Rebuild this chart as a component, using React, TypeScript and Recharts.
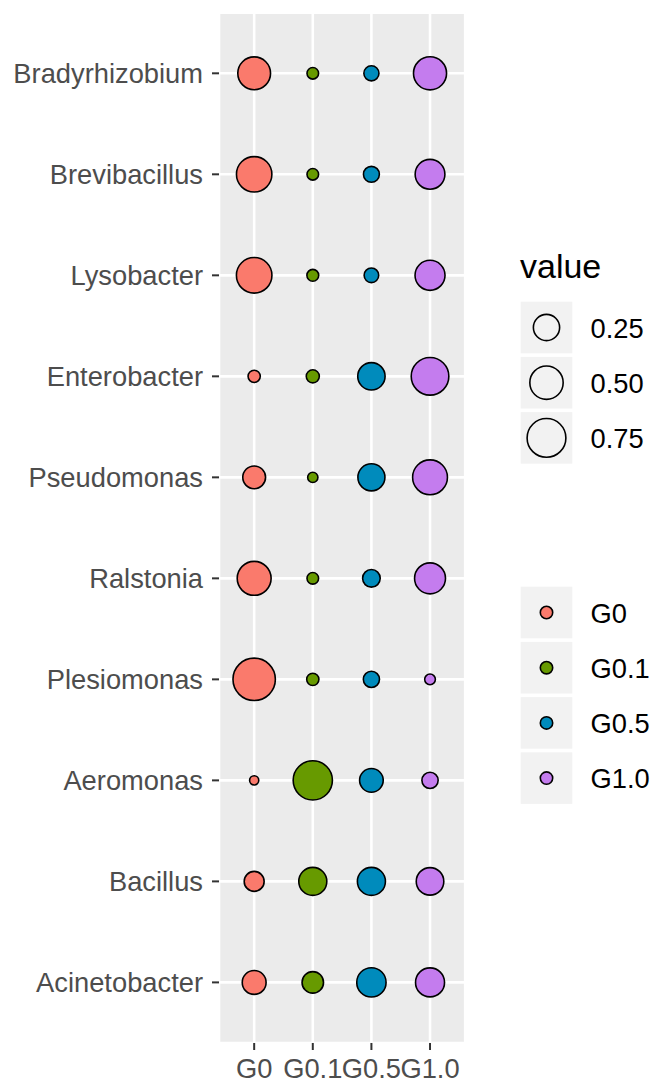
import React from 'react';
import { ScatterChart, Scatter, XAxis, YAxis, ZAxis, CartesianGrid } from 'recharts';

const genera = ['Bradyrhizobium', 'Brevibacillus', 'Lysobacter', 'Enterobacter', 'Pseudomonas', 'Ralstonia', 'Plesiomonas', 'Aeromonas', 'Bacillus', 'Acinetobacter'];
const groups = ['G0', 'G0.1', 'G0.5', 'G1.0'];
const groupColors = ['#FA7A6C', '#679A00', '#008BBC', '#C47CEE'];

const valuesG0 = [0.477, 0.59, 0.595, 0.009, 0.16, 0.525, 0.945, 0.001, 0.1, 0.185];
const valuesG01 = [0.006, 0.006, 0.007, 0.014, 0.002, 0.006, 0.009, 0.775, 0.305, 0.13];
const valuesG05 = [0.031, 0.04, 0.026, 0.284, 0.274, 0.062, 0.043, 0.18, 0.305, 0.348];
const valuesG10 = [0.49, 0.364, 0.372, 0.693, 0.565, 0.407, 0.003, 0.044, 0.29, 0.337];
const groupValues = [valuesG0, valuesG01, valuesG05, valuesG10];

const sizeBreaks = [0.25, 0.5, 0.75];
const sizeBreakLabels = ['0.25', '0.50', '0.75'];

const FONT = "'Liberation Sans', Arial, sans-serif";
const W = 654;
const H = 1080;
const SW = 1.6;

const allValues = groupValues.flat();
const VMIN = Math.min(...allValues);
const VMAX = Math.max(...allValues);
const DMIN = 9.2;
const DMAX = 42.4;
const AREA_MAX = Math.PI * (DMAX / 2) * (DMAX / 2);

// ggplot-like area palette: diameter grows with sqrt of rescaled value; returns normalised area
const sizeKey = (v: number) => {
  const t = Math.max(0, (v - VMIN) / (VMAX - VMIN));
  const d = DMIN + (DMAX - DMIN) * Math.sqrt(t);
  return (d / DMAX) * (d / DMAX);
};

const seriesData = groups.map((g, gi) =>
  groupValues[gi].map((v, yi) => ({ x: gi, y: yi, value: v, group: g, genus: genera[yi] }))
);

const tickStyle = { fontFamily: FONT, fontSize: 27.3, fill: '#4D4D4D' };

function Legends() {
  const keyX = 520.7;
  const keyW = 51.6;
  const step = 55.2;
  const sizeTop = 301.7;
  const colorTop = 586.7;
  const labelX = 590.5;
  return (
    <svg width={W} height={H} style={{ position: 'absolute', left: 0, top: 0, pointerEvents: 'none' }}>
      <text x={520} y={278} fontFamily={FONT} fontSize={34} fill="#000">value</text>
      {sizeBreaks.map((b, i) => {
        const cy = sizeTop + i * step + keyW / 2;
        const r = Math.sqrt((sizeKey(b) * AREA_MAX) / Math.PI);
        return (
          <g key={'s' + i}>
            <rect x={keyX} y={sizeTop + i * step} width={keyW} height={keyW} fill="#F2F2F2" />
            <circle cx={keyX + keyW / 2} cy={cy} r={r} fill="none" stroke="#000" strokeWidth={SW} />
            <text x={labelX} y={cy + 10} fontFamily={FONT} fontSize={27.3} fill="#000">{sizeBreakLabels[i]}</text>
          </g>
        );
      })}
      {groups.map((g, i) => {
        const cy = colorTop + i * step + keyW / 2;
        return (
          <g key={'c' + i}>
            <rect x={keyX} y={colorTop + i * step} width={keyW} height={keyW} fill="#F2F2F2" />
            <circle cx={keyX + keyW / 2} cy={cy} r={6.2} fill={groupColors[i]} stroke="#000" strokeWidth={SW} />
            <text x={labelX} y={cy + 10} fontFamily={FONT} fontSize={27.3} fill="#000">{g}</text>
          </g>
        );
      })}
    </svg>
  );
}

export default function App() {
  return (
    <div style={{ position: 'absolute', left: 0, top: 0, width: W, height: H, fontFamily: FONT, overflow: 'hidden' }}>
      <ScatterChart width={W} height={H} margin={{ top: 12.7, right: 188.8, bottom: 0, left: 0 }}>
        <CartesianGrid fill="#EBEBEB" stroke="#FFFFFF" strokeWidth={2.6} />
        <XAxis
          type="number"
          dataKey="x"
          domain={[-0.6, 3.6]}
          ticks={[0, 1, 2, 3]}
          interval={0}
          tickFormatter={(i: number) => groups[i]}
          height={37}
          axisLine={false}
          tickSize={7}
          tickMargin={9}
          tickLine={{ stroke: '#333333', strokeWidth: 2 }}
          tick={tickStyle}
          allowDataOverflow
        />
        <YAxis
          type="number"
          dataKey="y"
          domain={[-0.6, 9.6]}
          ticks={[0, 1, 2, 3, 4, 5, 6, 7, 8, 9]}
          interval={0}
          reversed
          tickFormatter={(i: number) => genera[i]}
          width={219}
          axisLine={false}
          tickSize={7}
          tickMargin={9}
          tickLine={{ stroke: '#333333', strokeWidth: 2 }}
          tick={tickStyle}
          allowDataOverflow
        />
        <ZAxis type="number" dataKey={(d: any) => sizeKey(d.value)} domain={[0, 1]} range={[0, AREA_MAX]} />
        {groups.map((g, gi) => (
          <Scatter
            key={g}
            name={g}
            data={seriesData[gi]}
            fill={groupColors[gi]}
            stroke="#000000"
            strokeWidth={SW}
            shape="circle"
            isAnimationActive={false}
          />
        ))}
      </ScatterChart>
      <Legends />
    </div>
  );
}
